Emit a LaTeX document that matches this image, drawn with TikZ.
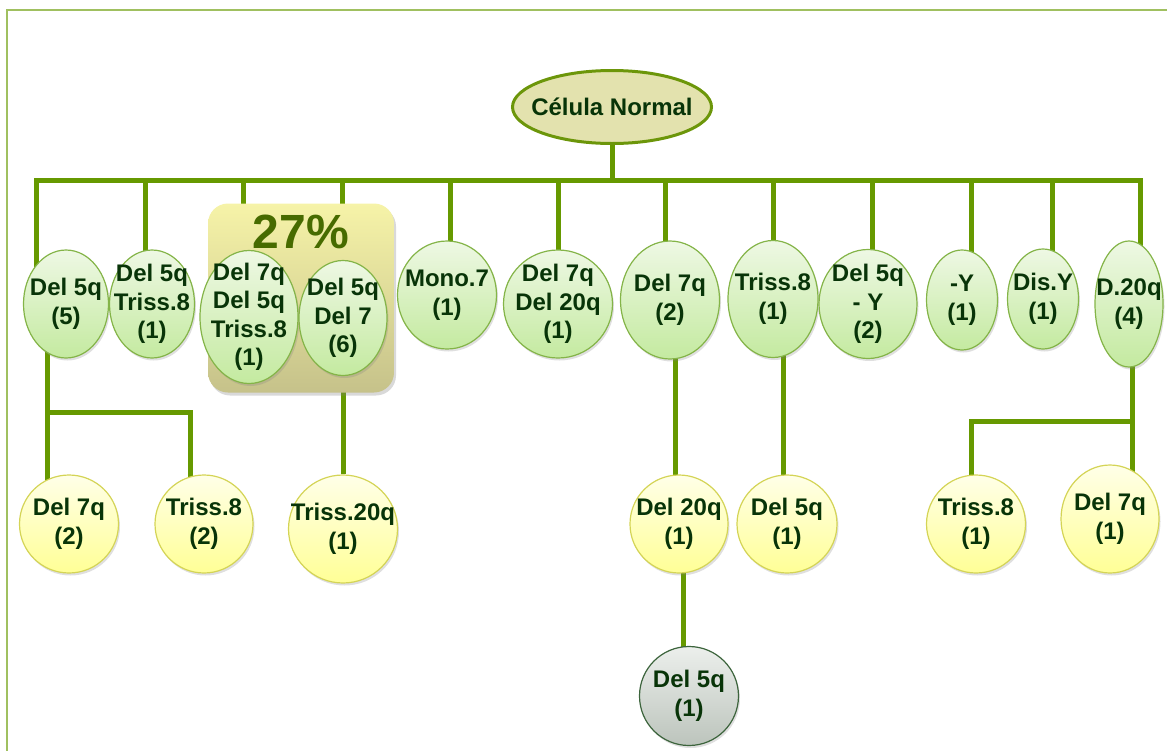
\documentclass[tikz,border=0pt]{standalone}
\usepackage{fontspec}
\setmainfont{Liberation Sans}
\usetikzlibrary{positioning,shapes.geometric,shadows,backgrounds,calc}

\definecolor{linkgreen}{RGB}{102,153,0}
\definecolor{framegreen}{RGB}{160,192,96}
\definecolor{txtgreen}{RGB}{8,52,8}
\definecolor{gtop}{RGB}{238,248,228}
\definecolor{gbot}{RGB}{196,234,160}
\definecolor{gedge}{RGB}{132,180,72}
\definecolor{ytop}{RGB}{255,255,232}
\definecolor{ybot}{RGB}{255,255,150}
\definecolor{yedge}{RGB}{212,212,86}
\definecolor{stop}{RGB}{236,239,236}
\definecolor{sbot}{RGB}{188,196,188}
\definecolor{sedge}{RGB}{60,100,60}
\definecolor{rootfill}{RGB}{227,226,174}
\definecolor{rootedge}{RGB}{108,150,10}
\definecolor{boxtop}{RGB}{246,243,168}
\definecolor{boxbot}{RGB}{198,194,138}

\tikzset{
  cell/.style={ellipse, inner sep=0pt, line width=1.2pt,
    drop shadow={shadow xshift=1.5pt, shadow yshift=-2.5pt, opacity=0.25}},
  gcell/.style 2 args={cell, draw=gedge, top color=gtop, bottom color=gbot,
    minimum width=#1pt, minimum height=#2pt},
  ycell/.style 2 args={cell, draw=yedge, top color=ytop, bottom color=ybot,
    minimum width=#1pt, minimum height=#2pt},
  scell/.style 2 args={cell, draw=sedge, top color=stop, bottom color=sbot,
    minimum width=#1pt, minimum height=#2pt},
  rootcell/.style={ellipse, inner sep=0pt, draw=rootedge, line width=3pt,
    fill=rootfill, minimum width=199pt, minimum height=73pt},
  lbl/.style={font=\fontsize{24pt}{28.5pt}\selectfont\bfseries,
    text=txtgreen, align=center, inner sep=0pt},
  pct/.style={font=\fontsize{48pt}{52pt}\selectfont\bfseries,
    text=linkgreen!70!black, inner sep=0pt},
  cellbox/.style={rectangle, rounded corners=20pt, top color=boxtop,
    bottom color=boxbot, minimum width=186pt, minimum height=189pt,
    drop shadow={shadow xshift=2pt, shadow yshift=-3pt, opacity=0.3}},
  tline/.style={draw=linkgreen, line width=5pt},
}

\begin{document}
\begin{tikzpicture}[x=1pt,y=-1pt]
  \useasboundingbox (0,0) rectangle (1167,750);
  \clip (0,0) rectangle (1167,750);

  % root
  \node[rootcell, label={[lbl]center:Célula Normal}] (root) at (612,107) {};
  \coordinate (bus) at (612,180);

  % first level
  \node[gcell={85}{108}, label={[lbl]center:Del 5q\\(5)}] (a1) at (66,304) {};
  \node[gcell={85}{108}, label={[lbl]center:Del 5q\\Triss.8\\(1)}] (a2) at (152,304) {};
  \node[gcell={98}{133}, label={[lbl]center:Del 7q\\Del 5q\\Triss.8\\(1)}] (a3) at (249,317) {};
  \node[gcell={88}{115}, label={[lbl]center:Del 5q\\Del 7\\(6)}] (a4) at (343,318) {};
  \node[gcell={99}{108}, label={[lbl]center:Mono.7\\(1)}] (a5) at (447,295) {};
  \node[gcell={109}{108}, label={[lbl]center:Del 7q\\Del 20q\\(1)}] (a6) at (558,304) {};
  \node[gcell={99}{118}, label={[lbl]center:Del 7q\\(2)}] (a7) at (670,300) {};
  \node[gcell={90}{117}, label={[lbl]center:Triss.8\\(1)}] (a8) at (773,299) {};
  \node[gcell={98}{109}, label={[lbl]center:Del 5q\\- Y\\(2)}] (a9) at (868,304) {};
  \node[gcell={71}{100}, label={[lbl]center:-Y\\(1)}] (a10) at (962,300) {};
  \node[gcell={71}{100}, label={[lbl]center:Dis.Y\\(1)}] (a11) at (1043,299) {};
  \node[gcell={68}{126}, label={[lbl]center:D.20q\\(4)}] (a12) at (1129,304) {};

  % second level
  \node[ycell={99}{98}, label={[lbl]center:Del 7q\\(2)}] (b1) at (69,524) {};
  \node[ycell={98}{98}, label={[lbl]center:Triss.8\\(2)}] (b2) at (204,524) {};
  \node[ycell={109}{108}, label={[lbl]center:Triss.20q\\(1)}] (b3) at (343,529) {};
  \node[ycell={98}{98}, label={[lbl]center:Del 20q\\(1)}] (b4) at (679,524) {};
  \node[ycell={100}{98}, label={[lbl]center:Del 5q\\(1)}] (b5) at (787,524) {};
  \node[ycell={99}{98}, label={[lbl]center:Triss.8\\(1)}] (b6) at (976,524) {};
  \node[ycell={98}{108}, label={[lbl]center:Del 7q\\(1)}] (b7) at (1110,519) {};

  % third level
  \node[scell={99}{99}, label={[lbl]center:Del 5q\\(1)}] (c1) at (689,696) {};

  \begin{scope}[on background layer]
    \draw[framegreen, line width=1.5pt] (7,10) rectangle (1190,780);
    % tree lines
    \draw[tline] (root) -- (bus);
    \foreach \n/\x in {a1/36,a2/145,a3/243,a4/342,a5/450,a6/558,
                       a7/665,a8/773,a9/872,a10/971,a11/1052,a12/1140}
      \draw[tline] (\n.center -| \x,0) |- (bus);
    \coordinate (j1) at (47,412);
    \draw[tline] (a1.center -| j1) -- (b1.center -| j1);
    \draw[tline] (j1) -| ($(b2)+(-14,0)$);
    \draw[tline] (a4) -- (b3);
    \draw[tline] (a7.center -| 675,0) -- (b4.center -| 675,0);
    \draw[tline] (b4.center -| 683,0) -- (c1.center -| 683,0);
    \draw[tline] (a8.center -| 783,0) -- (b5.center -| 783,0);
    \coordinate (j2) at (1132,421);
    \draw[tline] (a12.center -| j2) -- (b7.center -| j2);
    \draw[tline] (j2) -| ($(b6)+(-5,0)$);
    % highlight box
    \node[cellbox] (box) at (301,298) {};
    \node[pct, below=11pt of box.north] (share) {27\%};
  \end{scope}
\end{tikzpicture}
\end{document}
